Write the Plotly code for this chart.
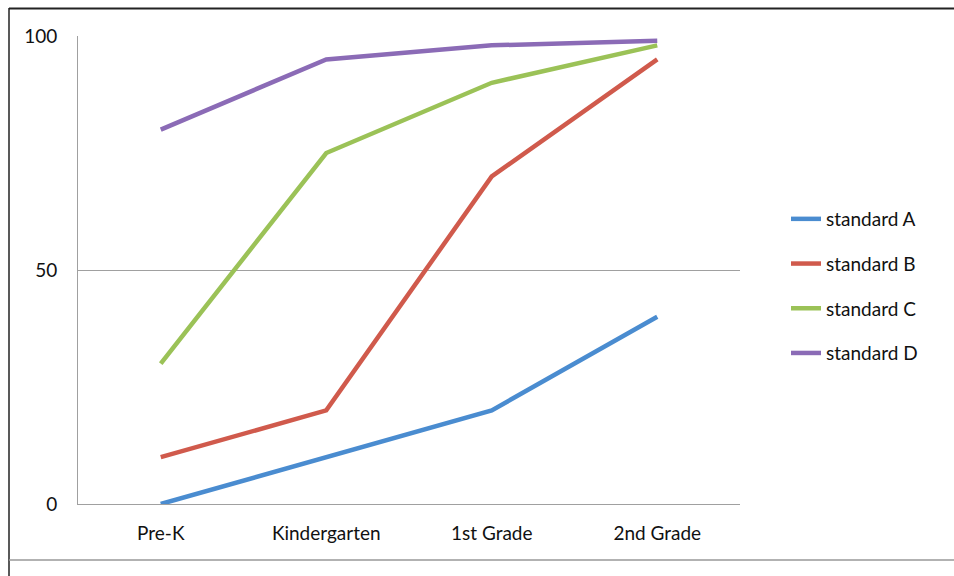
import plotly.graph_objects as go

categories = ["Pre-K", "Kindergarten", "1st Grade", "2nd Grade"]
series_names = ["standard A", "standard B", "standard C", "standard D"]
standard_a = [0, 10, 20, 40]
standard_b = [10, 20, 70, 95]
standard_c = [30, 75, 90, 98]
standard_d = [80, 95, 98, 99]
y_ticks = [0, 50, 100]
colors = ["#4A8CD0", "#D05A4C", "#9BC257", "#8B6BB6"]

W, H = 954, 576
L, R, T, B = 78, 740, 36, 504

fig = go.Figure()
for name, vals, col in zip(series_names, [standard_a, standard_b, standard_c, standard_d], colors):
    fig.add_trace(go.Scatter(x=categories, y=vals, name=name, mode="lines",
                             line=dict(color=col, width=4.5), cliponaxis=False,
                             legendgroup=name))

def px_x(px):
    return (px - L) / (R - L)

def px_y(py):
    return (B - py) / (B - T)

shapes = [
    dict(type="line", xref="paper", yref="paper", x0=px_x(9), x1=px_x(954), y0=px_y(8.5), y1=px_y(8.5),
         line=dict(color="#222222", width=2)),
    dict(type="line", xref="paper", yref="paper", x0=px_x(9), x1=px_x(9), y0=px_y(8), y1=px_y(576),
         line=dict(color="#222222", width=1.5)),
    dict(type="line", xref="paper", yref="paper", x0=px_x(9), x1=px_x(954), y0=px_y(560), y1=px_y(560),
         line=dict(color="#999999", width=1.5)),
]

fig.update_layout(
    width=W, height=H,
    margin=dict(l=L, r=W - R, t=T, b=H - B, pad=0),
    paper_bgcolor="white", plot_bgcolor="white",
    font=dict(family="Lato, Open Sans, sans-serif", size=19, color="#111111"),
    showlegend=True,
    legend=dict(x=px_x(786), xanchor="left", y=px_y(286), yanchor="middle",
                traceorder="grouped", tracegroupgap=17, font=dict(size=19),
                bgcolor="rgba(0,0,0,0)"),
    shapes=shapes,
    xaxis=dict(type="category", range=[-0.5, 3.5], showgrid=False, showline=True,
               linecolor="#A0A0A0", linewidth=1, ticks="", ticklabelstandoff=12,
               zeroline=False, fixedrange=True),
    yaxis=dict(range=[0, 100], tickvals=y_ticks, showgrid=True, gridcolor="#A0A0A0",
               gridwidth=1, showline=True, linecolor="#A0A0A0", linewidth=1,
               ticks="", ticklabelstandoff=16, zeroline=False, fixedrange=True),
)

fig.write_html("out.html")
